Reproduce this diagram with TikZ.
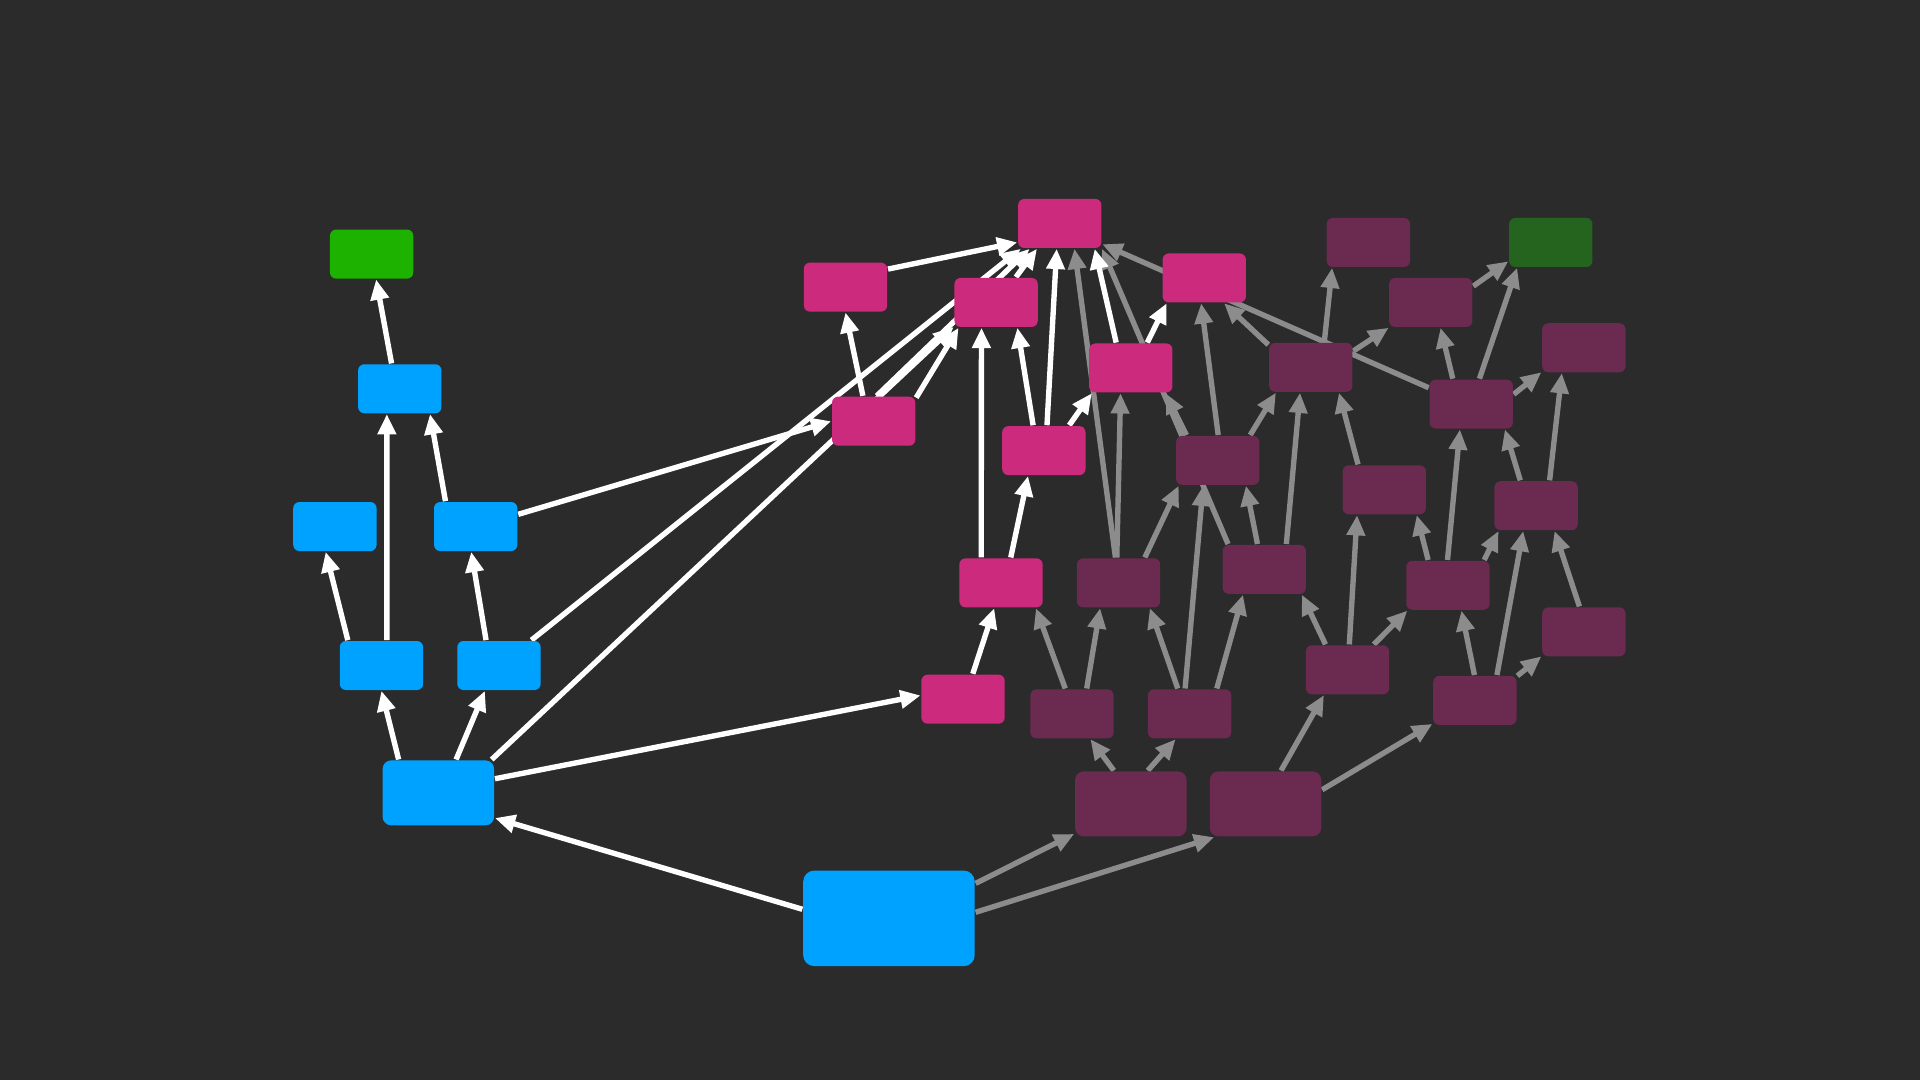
\documentclass[tikz,border=0pt]{standalone}
\usetikzlibrary{arrows.meta}
\definecolor{canvas}{HTML}{2B2B2B}
\definecolor{sky}{HTML}{00A2FF}
\definecolor{lime}{HTML}{1DB100}
\definecolor{pine}{HTML}{24641F}
\definecolor{rose}{HTML}{CB2A7D}
\definecolor{plum}{HTML}{6B2A4F}
\definecolor{wire}{HTML}{8C8C8C}
\pgfdeclarelayer{back}
\pgfdeclarelayer{wires}
\pgfsetlayers{back,wires,main}
\tikzset{
  box/.style={rounded corners=0.05cm, minimum width=0.68cm, minimum height=0.40cm, inner sep=0pt, draw=none},
  wide/.style={minimum width=0.91cm, minimum height=0.53cm, rounded corners=0.07cm},
  huge/.style={minimum width=1.40cm, minimum height=0.78cm, rounded corners=0.09cm},
  skybox/.style={box, fill=sky},
  limebox/.style={box, fill=lime},
  pinebox/.style={box, fill=pine},
  rosebox/.style={box, fill=rose},
  plumbox/.style={box, fill=plum},
  wlink/.style={draw=white, line width=1.25pt, -{Triangle[length=1.65mm,width=1.45mm]}},
  glink/.style={draw=wire, line width=1.25pt, -{Triangle[length=1.65mm,width=1.45mm]}}
}
\begin{document}
\begin{tikzpicture}[x=0.01cm,y=-0.01cm]
  \begin{pgfonlayer}{back}
    \fill[canvas] (0,0) rectangle (1568,882);
  \end{pgfonlayer}
  \useasboundingbox (0,0) rectangle (1568,882);

  \node[skybox,huge] (root) at (726,750) {};
  \node[skybox,wide] (b1) at (358,647.5) {};
  \node[skybox] (b2) at (311.5,543.5) {};
  \node[skybox] (b3) at (407.5,543.5) {};
  \node[skybox] (b4) at (273.5,430) {};
  \node[skybox] (b5) at (388.5,430) {};
  \node[skybox] (b6) at (326.5,317.5) {};
  \node[limebox] (g1) at (303.5,207.5) {};

  \node[rosebox] (ptop) at (865.5,182.5) {};
  \node[rosebox] (pleft) at (690.5,234.5) {};
  \node[rosebox] (p2) at (813.5,247) {};
  \node[rosebox] (p3) at (983.5,227) {};
  \node[rosebox] (p4) at (713.5,344) {};
  \node[rosebox] (p5) at (923.5,300.5) {};
  \node[rosebox] (p6) at (852.5,368) {};
  \node[rosebox] (p7) at (817.5,476) {};
  \node[rosebox] (p8) at (786.5,571) {};

  \node[plumbox] (d1) at (1117.5,198) {};
  \node[pinebox] (g2) at (1266.5,198) {};
  \node[plumbox] (d2) at (1168.5,247) {};
  \node[plumbox] (d3) at (1293.5,284) {};
  \node[plumbox] (d4) at (1070.5,300) {};
  \node[plumbox] (d5) at (1201.5,330) {};
  \node[plumbox] (d6) at (994.5,376) {};
  \node[plumbox] (d7) at (1130.5,400) {};
  \node[plumbox] (d8) at (1254.5,413) {};
  \node[plumbox] (d9) at (913.5,476) {};
  \node[plumbox] (d10) at (1032.5,465) {};
  \node[plumbox] (d11) at (1182.5,478) {};
  \node[plumbox] (d12) at (1293.5,516) {};
  \node[plumbox] (d13) at (1100.5,547) {};
  \node[plumbox] (d14) at (1204.5,572) {};
  \node[plumbox] (d15) at (875.5,583) {};
  \node[plumbox] (d16) at (971.5,583) {};
  \node[plumbox,wide] (d17) at (923.5,656.5) {};
  \node[plumbox,wide] (d18) at (1033.5,656.5) {};

  \begin{pgfonlayer}{wires}
    % grey part
    \draw[glink] (root.22) -- (d17.-152);
    \draw[glink] (root.4) -- (d18.-147);
    \draw[glink] (d17.117) -- (d15.-54);
    \draw[glink] (d17.63) -- (d16.-119);
    \draw[glink] (d18.65) -- (d13.-133);
    \draw[glink] (d18.14) -- (d14.-151);
    \draw[glink] (d15.105) -- (p7.-36);
    \draw[glink] (d15.60) -- (d9.-126);
    \draw[glink] (d16.115) -- (d9.-39);
    \draw[glink] (d16.100) -- (d6.-120);
    \draw[glink] (d16.43) -- (d10.-130);
    \draw[glink] (d9.94) -- (p5.-112);
    \draw[glink] (d9.97) -- (ptop.-60);
    \draw[glink] (d9.44) -- (d6.-147);
    \draw[glink] (d10.105) -- (d6.-42);
    \draw[glink] (d10.145) -- (ptop.-31);
    \draw[glink] (d10.49) -- (d4.-113);
    \draw[glink] (d6.141) -- (p5.-36);
    \draw[glink] (d6.89) -- (p3.-97);
    \draw[glink] (d6.38) -- (d4.-144);
    \draw[glink] (d4.152) -- (p3.-52);
    \draw[glink] (d4.62) -- (d1.-145);
    \draw[glink] (d4.21) -- (d2.-149);
    \draw[glink] (d5.159) -- (ptop.-26);
    \draw[glink] (d5.126) -- (d2.-69);
    \draw[glink] (d5.72) -- (g2.-143);
    \draw[glink] (d5.13) -- (d3.-150);
    \draw[glink] (d2.21) -- (g2.-156);
    \draw[glink] (d7.136) -- (d4.-42);
    \draw[glink] (d8.122) -- (d5.-37);
    \draw[glink] (d8.62) -- (d3.-131);
    \draw[glink] (d11.91) -- (d5.-114);
    \draw[glink] (d11.128) -- (d7.-38);
    \draw[glink] (d11.35) -- (d8.-146);
    \draw[glink] (d13.86) -- (d7.-137);
    \draw[glink] (d13.131) -- (d10.-34);
    \draw[glink] (d13.44) -- (d11.-148);
    \draw[glink] (d14.91) -- (d11.-62);
    \draw[glink] (d14.49) -- (d8.-117);
    \draw[glink] (d14.30) -- (d12.-150);
    \draw[glink] (d12.100) -- (d8.-54);
    % white part
    \draw[wlink] (root.174) -- (b1.-24);
    \draw[wlink] (b1.140) -- (b2.-90);
    \draw[wlink] (b1.62) -- (b3.-119);
    \draw[wlink] (b1.14) -- (p8.175);
    \draw[wlink] (b1.32) -- (p2.-150);
    \draw[wlink] (b2.143) -- (b4.-110);
    \draw[wlink] (b2.78) -- (b6.-117);
    \draw[wlink] (b3.117) -- (b5.-100);
    \draw[wlink] (b3.38) -- (ptop.-147);
    \draw[wlink] (b5.140) -- (b6.-40);
    \draw[wlink] (b5.16) -- (p4.180);
    \draw[wlink] (b6.108) -- (g1.-80);
    \draw[wlink] (pleft.23) -- (ptop.-156);
    \draw[wlink] (p4.113) -- (pleft.-90);
    \draw[wlink] (p4.29) -- (p2.-146);
    \draw[wlink] (p4.83) -- (ptop.-140);
    \draw[wlink] (p2.52) -- (ptop.-132);
    \draw[wlink] (p6.113) -- (p2.-50);
    \draw[wlink] (p6.83) -- (ptop.-97);
    \draw[wlink] (p6.45) -- (p5.-147);
    \draw[wlink] (p7.128) -- (p2.-120);
    \draw[wlink] (p7.69) -- (p6.-122);
    \draw[wlink] (p8.69) -- (p7.-105);
    \draw[wlink] (p5.120) -- (ptop.-36);
    \draw[wlink] (p5.57) -- (p3.-146);
  \end{pgfonlayer}
\end{tikzpicture}
\end{document}
